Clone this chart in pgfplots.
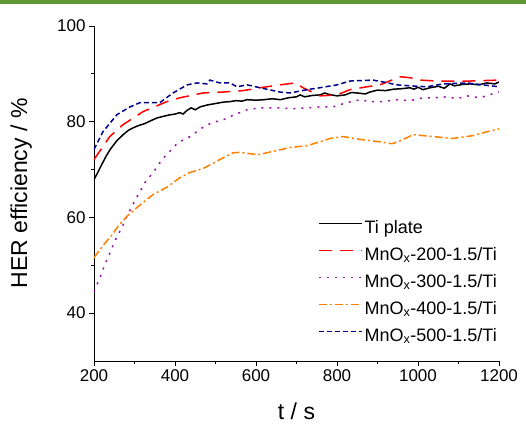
\documentclass[border=0pt]{standalone}
\usepackage{fontspec}
\setmainfont{Liberation Sans}
\usepackage{pgfplots}
\pgfplotsset{compat=1.18}

\definecolor{tired}{RGB}{255,0,0}
\definecolor{mnpurple}{RGB}{150,20,160}
\definecolor{mnorange}{RGB}{255,128,0}
\definecolor{mnblue}{RGB}{0,0,140}
\definecolor{topgreen}{RGB}{98,152,52}

\begin{document}
\begin{tikzpicture}
\begin{axis}[
  scale only axis,
  width=405pt, height=335pt,
  xmin=200, xmax=1200, ymin=30, ymax=100,
  axis lines=left,
  axis line style={-, line width=0.8pt},
  xtick={200,400,...,1200},
  ytick={40,60,80,100},
  minor x tick num=1, minor y tick num=1,
  tick align=outside,
  major tick length=5pt, minor tick length=3pt,
  tick style={black, line width=0.8pt},
  ticklabel style={font=\fontsize{17}{20}\selectfont},
  /pgf/number format/assume math mode=true,
  /pgf/number format/1000 sep={},
  xlabel={t / s}, ylabel={HER efficiency / \%},
  label style={font=\fontsize{23}{27}\selectfont},
  x label style={at={(axis description cs:0.5,-0.15)}, anchor=center},
  y label style={at={(axis description cs:-0.18,0.5)}, anchor=center},
  legend style={draw=none, fill=none, at={(axis description cs:1,0.029)},
    anchor=south east, font=\fontsize{18}{21}\selectfont,
    row sep=0pt, inner sep=0pt,
    nodes={text height=15pt, text depth=8pt}},
  legend cell align=left,
  legend image code/.code={\draw[#1, line width=1.5pt] (0pt,6pt) -- (43pt,6pt);},
]
\addplot[black, line width=1.5pt] table {
200 67.9
210 69.5
220 71.2
230 72.8
240 74.2
256 76.0
272 77.3
285 78.2
296 78.7
310 79.2
325 79.6
340 80.2
356 80.8
370 81.1
385 81.4
400 81.6
412 81.9
420 81.6
430 82.4
440 82.9
450 82.5
462 83.1
480 83.5
500 83.8
520 84.1
536 84.2
550 84.4
565 84.3
578 84.6
600 84.5
620 84.6
640 84.8
660 84.6
680 85.0
700 85.2
709 85.6
720 85.2
740 85.5
758 85.6
770 86.0
780 85.7
800 85.4
820 85.6
835 86.1
850 86.0
870 85.8
881 86.2
900 86.6
920 86.5
940 86.8
960 86.9
980 87.1
990 86.8
1000 87.2
1012 86.7
1030 87.1
1050 87.4
1065 87.0
1079 87.9
1090 87.5
1110 87.8
1130 87.9
1150 87.7
1170 88.1
1190 87.9
1200 88.3
};
\addlegendentry{Ti plate}
\addplot[tired, line width=1.5pt, dash pattern=on 13pt off 8pt] table {
200 72.1
239 76.9
272 79.4
321 82.1
380 84.2
412 85.0
469 86.0
518 86.2
568 86.5
610 87.1
659 87.7
696 88.1
716 87.1
758 85.4
800 85.6
832 86.7
874 87.3
906 87.7
956 89.4
980 89.2
1005 88.7
1047 88.5
1128 88.5
1200 88.7
};
\addlegendentry{MnO\textsubscript{x}-200-1.5/Ti}
\addplot[mnpurple, line width=1.5pt, dash pattern=on 2pt off 6pt] table {
200 44.5
215 47.5
227 50.2
240 52.7
252 55.2
269 57.9
281 60.2
296 62.7
311 65.0
326 67.3
346 69.4
368 72.1
407 75.6
437 76.9
467 78.7
491 79.8
519 80.4
548 81.5
578 82.5
610 82.9
659 82.9
691 82.7
726 82.9
758 83.1
790 83.1
825 84.0
857 84.6
881 84.2
914 84.2
948 84.6
980 84.4
1012 85.0
1037 85.0
1072 85.2
1096 84.8
1121 85.4
1153 85.0
1183 85.8
1200 86.2
};
\addlegendentry{MnO\textsubscript{x}-300-1.5/Ti}
\addplot[mnorange, line width=1.5pt, dash pattern=on 8pt off 3pt on 2pt off 3pt] table {
200 51.6
215 53.3
227 54.6
244 56.3
259 58.1
281 60.2
301 61.7
321 63.1
346 64.8
380 66.3
412 68.3
437 69.4
469 70.2
511 72.1
543 73.5
560 73.6
605 73.1
642 73.8
684 74.6
726 75.0
758 75.8
783 76.5
815 76.9
857 76.3
906 75.8
936 75.4
956 76.0
988 77.3
1037 76.9
1086 76.5
1136 77.1
1170 77.9
1200 78.5
};
\addlegendentry{MnO\textsubscript{x}-400-1.5/Ti}
\addplot[mnblue, line width=1.5pt, dash pattern=on 5pt off 3pt] table {
200 74.2
222 77.9
257 81.5
289 83.1
314 84.0
363 84.0
395 86.0
430 87.7
454 88.1
479 87.9
486 88.7
511 88.1
536 88.1
553 87.3
578 87.7
610 87.1
659 86.2
684 86.0
726 86.7
758 87.1
800 87.7
832 88.5
889 88.7
914 88.3
948 87.7
980 87.5
1022 87.3
1062 87.9
1121 88.1
1160 87.7
1200 87.3
};
\addlegendentry{MnO\textsubscript{x}-500-1.5/Ti}
\end{axis}
\fill[topgreen] (-94pt,357pt) rectangle (432pt,361pt);
\useasboundingbox (-94pt,-62pt) rectangle (432pt,361pt);
\end{tikzpicture}
\end{document}
